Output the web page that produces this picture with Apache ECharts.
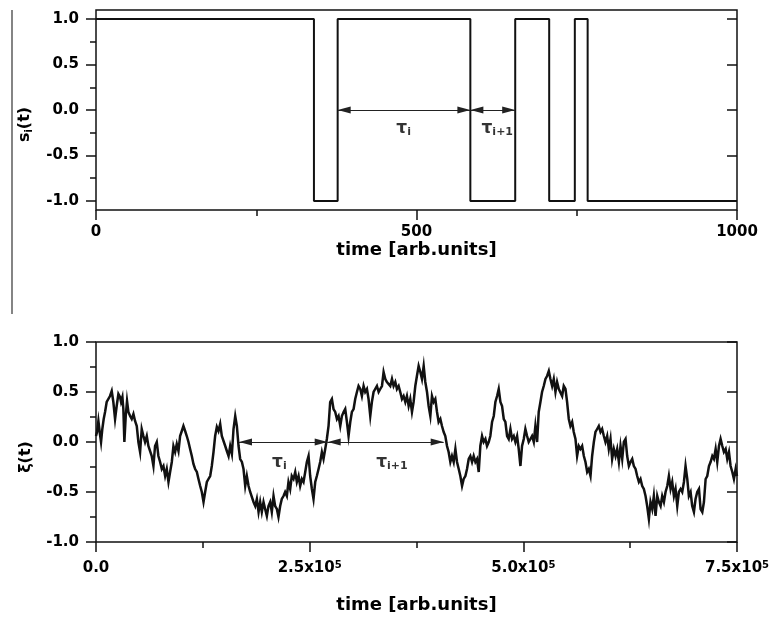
<!DOCTYPE html>
<html>
<head>
<meta charset="utf-8">
<script src="https://cdn.jsdelivr.net/npm/echarts@6/dist/echarts.min.js"></script>
<style>
html,body{margin:0;padding:0;background:#fff;}
#chart{width:769px;height:623px;}
</style>
</head>
<body>
<div id="chart"></div>
<script>
// ---------- DATA ----------
// Upper panel: dichotomous signal s_i(t), switching times [arb.units] and levels
const switchTimes  = [0, 340, 377, 584, 654, 707, 747, 767, 1000];
const switchLevels = [1,  -1,   1,  -1,   1,  -1,   1,  -1,   -1];
// residence-time intervals marked by double arrows (upper panel)
const topIntervals = [[377, 584], [584, 654]];
const topIntervalNames = ['i', 'i+1'];
const topLabelTimes = [480, 626];
const topLabelValue = -0.205;

// Lower panel: xi(t), time in units of 10^3
const xiTrace = [
[0,0.06],[1.2,0.10],[2.8,0.21],[4.3,0.10],[5.9,0.00],[7.4,0.13],[9.0,0.23],[10.6,0.30],[12.5,0.40],[14.5,0.41],
[16.4,0.46],[18.4,0.51],[20.3,0.40],[22.3,0.23],[24.2,0.36],[26.2,0.48],[28.1,0.45],[29.3,0.40],[30.9,0.45],[32.0,0.33],
[33.2,0.00],[34.8,0.26],[36.3,0.41],[37.9,0.30],[39.9,0.26],[41.8,0.23],[43.8,0.28],[45.7,0.21],[47.7,0.16],[49.6,0.00],
[51.6,-0.10],[53.5,0.13],[55.5,0.06],[57.4,0.00],[59.4,0.06],[61.3,-0.04],[63.3,-0.04],[65.2,-0.14],[67.2,-0.24],[69.1,-0.04],
[71.1,0.00],[73.0,-0.14],[75.0,-0.20],[77.0,-0.27],[78.9,-0.24],[80.9,-0.34],[82.8,-0.27],[84.8,-0.40],[86.7,-0.30],[88.7,-0.20],
[90.6,-0.04],[92.6,-0.10],[94.5,-0.02],[96.5,-0.09],[98.4,0.06],[100.4,0.11],[102.3,0.16],[104.3,0.11],[106.2,0.06],[108.2,0.00],
[110.1,-0.07],[112.1,-0.14],[114.0,-0.22],[116.0,-0.27],[118.0,-0.30],[119.9,-0.37],[121.9,-0.44],[123.8,-0.50],[125.8,-0.60],[127.7,-0.50],
[129.7,-0.40],[131.6,-0.37],[133.6,-0.34],[135.5,-0.24],[137.5,-0.10],[139.4,0.06],[141.4,0.15],[143.3,0.11],[145.3,0.18],[147.2,0.06],
[149.2,0.05],[151.2,-0.04],[153.1,-0.09],[155.1,-0.14],[157.0,-0.04],[159.0,-0.12],[160.9,0.13],[162.9,0.26],[164.8,0.16],[166.8,-0.04],
[168.7,-0.17],[170.7,-0.20],[172.6,-0.27],[174.6,-0.44],[176.5,-0.34],[178.5,-0.44],[180.4,-0.50],[182.4,-0.50],[184.3,-0.60],[186.3,-0.64],
[188.2,-0.57],[190.2,-0.70],[192.1,-0.60],
[194.0,-0.70],[196.0,-0.60],[197.9,-0.67],[199.9,-0.74],[201.8,-0.64],[203.8,-0.60],[205.7,-0.70],[207.7,-0.54],[209.6,-0.64],[211.6,-0.67],
[213.5,-0.75],[215.5,-0.64],[217.4,-0.57],[219.4,-0.54],[221.3,-0.50],[223.3,-0.54],[225.2,-0.40],[227.2,-0.47],[229.1,-0.34],[231.1,-0.37],
[233.1,-0.30],[235.0,-0.40],[237.0,-0.34],[238.9,-0.44],[240.9,-0.37],[242.8,-0.40],[244.8,-0.30],[246.7,-0.20],[248.7,-0.14],[250.6,-0.34],
[252.6,-0.47],[254.5,-0.57],[256.5,-0.40],[258.4,-0.34],[260.4,-0.27],[262.3,-0.20],[264.3,-0.10],[266.2,-0.17],[268.2,-0.07],[270.1,0.03],
[272.1,0.16],[274.0,0.40],[276.0,0.43],[277.9,0.33],[279.9,0.30],[281.9,0.23],[283.8,0.26],[285.8,0.16],[287.7,0.26],[289.7,0.30],
[291.6,0.33],[293.6,0.20],[295.5,0.06],[297.5,0.20],[299.4,0.30],[301.4,0.33],[303.3,0.43],[305.3,0.50],[307.2,0.56],[309.2,0.53],
[311.1,0.46],[313.1,0.56],[315.0,0.50],[317.0,0.53],[318.9,0.43],[320.9,0.26],[322.8,0.40],[324.8,0.50],[326.7,0.53],[328.7,0.56],
[330.7,0.50],[332.6,0.53],[334.6,0.56],[336.5,0.70],[338.5,0.63],[340.4,0.60],[342.4,0.60],[344.3,0.56],[346.3,0.63],[348.2,0.56],
[350.2,0.60],[352.1,0.53],[354.1,0.56],[356.0,0.50],[358.0,0.43],[359.9,0.46],[361.9,0.40],[363.8,0.46],[365.8,0.36],[367.7,0.43],
[369.7,0.30],[371.6,0.40],[373.6,0.56],[375.5,0.66],[377.5,0.76],
[379.5,0.70],[381.4,0.63],[383.4,0.76],[385.3,0.60],[387.3,0.50],[389.2,0.36],[391.2,0.26],[393.1,0.46],[395.1,0.40],[397.0,0.43],
[399.0,0.30],[400.9,0.20],[402.9,0.23],[404.8,0.16],[406.8,0.10],[408.7,0.06],[410.7,-0.04],[412.6,-0.10],[414.6,-0.20],[416.5,-0.14],
[418.5,-0.20],[420.5,-0.07],[422.4,-0.20],[424.4,-0.27],[426.3,-0.34],[428.3,-0.44],[430.2,-0.37],[432.2,-0.34],[434.1,-0.27],[436.1,-0.17],
[438.0,-0.14],[440.0,-0.20],[441.9,-0.14],[443.9,-0.20],[445.8,-0.17],[447.8,-0.30],[449.7,-0.04],[451.7,0.06],[453.6,0.00],[455.6,0.03],
[457.5,-0.04],[459.5,0.00],[461.4,0.06],[463.4,0.20],[465.4,0.26],[467.3,0.40],[469.3,0.46],[471.2,0.53],[473.2,0.40],[475.1,0.36],
[477.1,0.23],[479.0,0.20],[481.0,0.06],[482.9,0.03],[484.9,0.13],[486.8,0.03],[488.8,0.06],[490.7,0.00],[492.7,0.06],[494.6,-0.07],
[496.6,-0.24],[498.5,-0.04],[500.5,0.03],[502.4,0.13],[504.4,0.06],[506.3,0.00],[508.3,0.03],[510.2,0.06],[512.2,0.00],[514.1,0.16],
[516.1,0.00],[518.0,0.30],[520.0,0.40],[521.9,0.50],[523.9,0.56],[525.9,0.63],[527.8,0.66],[529.8,0.71],[531.7,0.63],[533.7,0.56],
[535.6,0.63],[537.6,0.50],[539.5,0.60],[541.5,0.53],[543.4,0.53],[545.4,0.46],[547.3,0.56],[549.3,0.53],[551.2,0.40],[553.2,0.23],
[555.1,0.16],[557.1,0.20],[559.0,0.10],[561.0,0.03],[562.9,-0.14],[564.9,-0.04],[566.8,-0.07],
[568.8,-0.04],[570.8,-0.14],[572.7,-0.20],[574.7,-0.30],[576.6,-0.27],[578.6,-0.34],[580.5,-0.14],[582.5,0.00],[584.4,0.10],[586.4,0.13],
[588.3,0.16],[590.3,0.10],[592.2,0.13],[594.2,0.06],[596.1,0.00],[598.1,0.06],[600.0,-0.07],[602.0,0.03],[603.9,-0.17],[605.9,-0.07],
[607.9,-0.14],[609.8,-0.07],[611.8,-0.20],[613.7,-0.04],[615.7,-0.17],[617.6,0.00],[619.6,0.03],[621.5,-0.14],[623.5,-0.24],[625.4,-0.20],
[627.4,-0.17],[629.3,-0.24],[631.3,-0.27],[633.2,-0.34],[635.2,-0.40],[637.1,-0.37],[639.1,-0.44],[641.0,-0.47],[643.0,-0.54],[644.9,-0.64],
[646.9,-0.77],[648.8,-0.60],[650.8,-0.67],[652.7,-0.54],[654.7,-0.74],[656.7,-0.54],[658.6,-0.60],[660.6,-0.64],[662.5,-0.54],[664.5,-0.60],
[666.4,-0.50],[668.4,-0.44],[670.3,-0.34],[672.3,-0.47],[674.2,-0.40],[676.2,-0.54],[678.1,-0.47],[680.1,-0.64],[682.0,-0.50],[684.0,-0.47],
[685.9,-0.50],[687.9,-0.40],[689.8,-0.24],[691.8,-0.37],[693.7,-0.54],[695.7,-0.50],[697.6,-0.64],[699.6,-0.70],[701.5,-0.57],[703.5,-0.50],
[705.5,-0.47],[707.4,-0.67],[709.4,-0.70],[711.3,-0.60],[713.3,-0.37],[715.2,-0.34],[717.2,-0.24],[719.1,-0.20],[721.1,-0.14],[723.0,-0.17],
[725.0,-0.07],[726.9,-0.20],[728.9,-0.04],[730.8,0.03],[732.8,-0.04],[734.7,-0.10],[736.7,-0.07],[738.6,-0.17],[740.6,-0.10],[742.5,-0.24],
[744.5,-0.30],[746.4,-0.37],[748.4,-0.27],[750.0,-0.34]
];
// residence-time intervals in lower panel (10^3 units)
const bottomIntervals = [[167.3, 271.1], [271.1, 406.8]];
const bottomIntervalNames = ['i', 'i+1'];
const bottomLabelTimes = [214.6, 346.3];
const bottomLabelValue = -0.206;

// ---------- STYLE ----------
const FONT = 'DejaVu Sans';
const INK = '#111';

const tickLabel = {fontFamily: FONT, fontWeight: 'bold', fontSize: 15, color: '#000'};
const tickStyle = {color: INK, width: 1.5};
const titleStyle = {fontFamily: FONT, fontWeight: 'bold', fontSize: 18, color: '#000'};

function tauLabel(name) { return '{t|τ}{s|' + name + '}'; }
const tauRich = {
  t: {fontFamily: FONT, fontWeight: 'bold', fontSize: 17, lineHeight: 18, verticalAlign: 'top', color: '#000'},
  s: {fontFamily: FONT, fontWeight: 'bold', fontSize: 11, lineHeight: 14, verticalAlign: 'bottom', padding: [10, 0, 0, 0], color: '#000'}
};

const arrowEnd = {symbol: 'triangle', symbolSize: [7, 13], symbolOffset: [0, 6.5]};
const arrowMarkLine = (intervals) => ({
  silent: true,
  animation: false,
  symbol: ['triangle', 'triangle'],
  symbolSize: 10,
  label: {show: false},
  emphasis: {disabled: true},
  lineStyle: {type: 'solid', color: '#222', width: 1},
  data: intervals.map(([a, b]) => [
    Object.assign({coord: [a, 0]}, arrowEnd),
    Object.assign({coord: [b, 0]}, arrowEnd)
  ])
});

const chart = echarts.init(document.getElementById('chart'), null, {renderer: 'canvas'});

const gridBase = {left: 96, width: 641, outerBoundsMode: 'none', containLabel: false};
const option = {
  animation: false,
  backgroundColor: '#fff',
  grid: [
    Object.assign({top: 10, height: 200, show: true, borderColor: INK, borderWidth: 1.5}, gridBase),
    Object.assign({top: 10 + 200 * 0.1 / 2.2, height: 200 * 2 / 2.2}, gridBase),
    Object.assign({top: 342, height: 200, show: true, borderColor: INK, borderWidth: 1.5}, gridBase)
  ],
  xAxis: [
    {
      gridIndex: 0, type: 'value', min: 0, max: 1000, interval: 500,
      axisLine: {show: false, onZero: false},
      axisTick: {show: true, length: 10, lineStyle: tickStyle},
      minorTick: {show: true, splitNumber: 2, length: 6, lineStyle: tickStyle},
      splitLine: {show: false}, minorSplitLine: {show: false},
      axisLabel: Object.assign({margin: 15, formatter: v => String(v)}, tickLabel),
      name: 'time [arb.units]', nameLocation: 'middle', nameGap: 26,
      nameTextStyle: titleStyle
    },
    {gridIndex: 1, type: 'value', min: 0, max: 1000, show: false, axisLine: {onZero: false}},
    {
      gridIndex: 2, type: 'value', min: 0, max: 750, interval: 250,
      axisLine: {show: false, onZero: false},
      axisTick: {show: true, length: 10, lineStyle: tickStyle},
      minorTick: {show: true, splitNumber: 2, length: 6, lineStyle: tickStyle},
      splitLine: {show: false}, minorSplitLine: {show: false},
      axisLabel: Object.assign({
        margin: 18, lineHeight: 16,
        formatter: v => v === 0 ? '0.0' : (v / 100).toFixed(1) + 'x10{sup|5}',
        rich: {sup: {fontFamily: FONT, fontWeight: 'bold', fontSize: 10, lineHeight: 10, verticalAlign: 'top', color: '#000'}}
      }, tickLabel),
      name: 'time [arb.units]', nameLocation: 'middle', nameGap: 54,
      nameTextStyle: titleStyle
    }
  ],
  yAxis: [
    {gridIndex: 0, type: 'value', min: -1.1, max: 1.1, show: false, axisLine: {onZero: false}},
    {
      gridIndex: 1, type: 'value', min: -1, max: 1, interval: 0.5, position: 'left',
      axisLine: {show: false, onZero: false},
      axisTick: {show: true, length: 10, lineStyle: tickStyle},
      minorTick: {show: true, splitNumber: 2, length: 6, lineStyle: tickStyle},
      splitLine: {show: false}, minorSplitLine: {show: false},
      axisLabel: Object.assign({margin: 17, formatter: v => v.toFixed(1)}, tickLabel),
      name: 's{sub|i}(t)', nameLocation: 'middle', nameGap: 62, nameRotate: 90,
      nameTextStyle: {
        fontFamily: FONT, fontWeight: 'bold', fontSize: 16, color: '#000', padding: [0, 29, 0, 0],
        rich: {sub: {fontFamily: FONT, fontWeight: 'bold', fontSize: 10, color: '#000', verticalAlign: 'bottom', padding: [8, 0, 0, 0]}}
      }
    },
    {
      gridIndex: 1, type: 'value', min: -1, max: 1, interval: 0.5, position: 'right',
      axisLine: {show: false, onZero: false},
      axisTick: {show: true, inside: true, length: 10, lineStyle: tickStyle},
      axisLabel: {show: false}, splitLine: {show: false}
    },
    {
      gridIndex: 2, type: 'value', min: -1, max: 1, interval: 0.5, position: 'left',
      axisLine: {show: false, onZero: false},
      axisTick: {show: true, length: 10, lineStyle: tickStyle},
      minorTick: {show: true, splitNumber: 2, length: 6, lineStyle: tickStyle},
      splitLine: {show: false}, minorSplitLine: {show: false},
      axisLabel: Object.assign({margin: 17, formatter: v => v.toFixed(1)}, tickLabel),
      name: 'ξ(t)', nameLocation: 'middle', nameGap: 62, nameRotate: 90,
      nameTextStyle: {fontFamily: FONT, fontWeight: 'bold', fontSize: 16, color: '#000', padding: [0, 30, 0, 0]}
    },
    {
      gridIndex: 2, type: 'value', min: -1, max: 1, interval: 0.5, position: 'right',
      axisLine: {show: false, onZero: false},
      axisTick: {show: true, inside: true, length: 10, lineStyle: tickStyle},
      axisLabel: {show: false}, splitLine: {show: false}
    }
  ],
  series: [
    {
      type: 'line', xAxisIndex: 0, yAxisIndex: 0, step: 'end', symbol: 'none',
      data: switchTimes.map((t, i) => [t, switchLevels[i]]),
      lineStyle: {color: INK, width: 2},
      markLine: arrowMarkLine(topIntervals)
    },
    {
      type: 'scatter', xAxisIndex: 0, yAxisIndex: 0, symbolSize: 0, silent: true,
      data: topIntervalNames.map((n, i) => ({name: n, value: [topLabelTimes[i], topLabelValue]})),
      label: {show: true, position: 'inside', formatter: p => tauLabel(p.name), rich: tauRich}
    },
    {
      type: 'line', xAxisIndex: 2, yAxisIndex: 3, symbol: 'none',
      data: xiTrace,
      lineStyle: {color: INK, width: 2.5, join: 'miter'},
      markLine: arrowMarkLine(bottomIntervals)
    },
    {
      type: 'scatter', xAxisIndex: 2, yAxisIndex: 3, symbolSize: 0, silent: true,
      data: bottomIntervalNames.map((n, i) => ({name: n, value: [bottomLabelTimes[i], bottomLabelValue]})),
      label: {show: true, position: 'inside', formatter: p => tauLabel(p.name), rich: tauRich}
    }
  ],
  graphic: [
    {type: 'line', shape: {x1: 12, y1: 10, x2: 12, y2: 314}, style: {stroke: '#333', lineWidth: 1.2}, silent: true}
  ]
};
chart.setOption(option);
</script>
</body>
</html>
